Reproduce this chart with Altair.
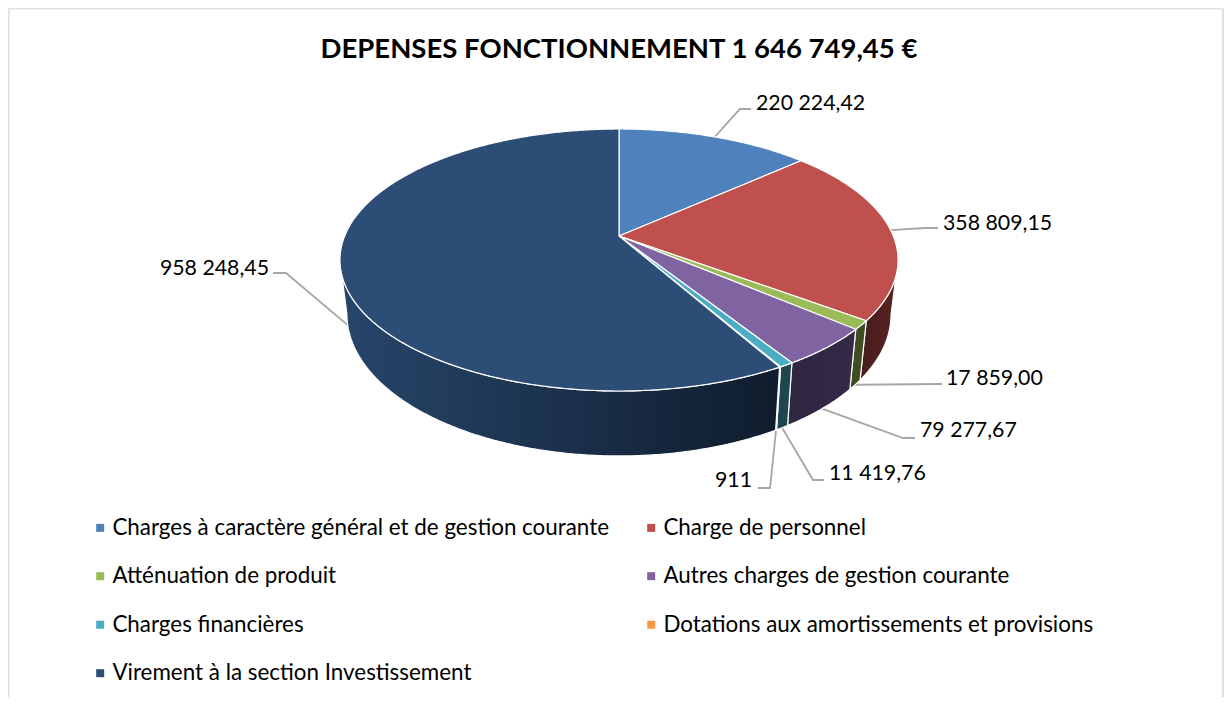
import numpy as np
import pandas as pd
import altair as alt

TITLE = "DEPENSES FONCTIONNEMENT 1 646 749,45 €"
categories = ["Charges à caractère général et de gestion courante", "Charge de personnel",
              "Atténuation de produit", "Autres charges de gestion courante",
              "Charges financières", "Dotations aux amortissements et provisions",
              "Virement à la section Investissement"]
values = [220224.42, 358809.15, 17859.00, 79277.67, 11419.76, 911, 958248.45]
value_labels = ["220 224,42", "358 809,15", "17 859,00", "79 277,67", "11 419,76", "911", "958 248,45"]
top_colors = ["#4f81bd", "#c0504d", "#9bbb59", "#8064a2", "#4bacc6", "#f79646", "#2c4d75"]
wall_left = ["#3b618e", "#471d1d", "#3f4e22", "#2f2640", "#1d4650", "#7a4a22", "#27466b"]
wall_right = ["#3b618e", "#5a2422", "#3f4e22", "#362a46", "#1d4650", "#7a4a22", "#0f1c2d"]

# layout of the data labels (image pixels)
label_x = [756, 943, 946, 920, 829, 752, 269]
label_y = [104, 224, 379, 431, 474, 481, 269]
label_align = ["left", "left", "left", "left", "left", "right", "right"]
elbow_x = [740, 925, 942, 903, 813, 770, 286]
elbow_y = [109, 228, 384, 438, 480, 488, 273]
tail_x = [751, 938, 942, 915, 824, 758, 273]
tail_y = [109, 228, 384, 438, 480, 488, 273]
leader_on_wall = [False, False, True, True, True, True, True]

# projection of the tilted disc
CX, CY, A, B, K = 619.0, 236.0, 274.3, 126.6, 0.1832
YMID = 260.0


def top(theta):
    u, v = np.sin(theta), -np.cos(theta)
    d = 1 - K * v
    return CX + A * u / d, CY + B * v / d


def bottom(theta):
    x, y = top(theta)
    return CX + (x - CX) * 0.975, y + 54.5 + (y - YMID) * 0.08


frac = np.array(values) / sum(values)
edges = np.concatenate([[0], np.cumsum(frac)]) * 2 * np.pi
T0, T1 = np.arcsin(K) + np.pi / 2, 3 * np.pi / 2 - np.arcsin(K)

layers = []
X = alt.X("x:Q", scale=alt.Scale(domain=[8, 1224], nice=False, zero=False), axis=None)
Y = alt.Y("y:Q", scale=alt.Scale(domain=[8, 697], nice=False, zero=False, reverse=True), axis=None)

# chart frame (open at the bottom)
for fx, fy in [([8.5, 8.5], [697, 8.5]), ([8.5, 1223], [8.5, 8.5]), ([1223, 1223], [8.5, 697])]:
    df = pd.DataFrame({"x": fx, "y": fy, "o": [0, 1]})
    layers.append(alt.Chart(df).mark_line(color="#e0e0e0", strokeWidth=2).encode(x=X, y=Y, order="o:Q"))

# leader lines
for i in range(7):
    mid = (edges[i] + edges[i + 1]) / 2
    sx, sy = bottom(mid) if leader_on_wall[i] else top(mid)
    df = pd.DataFrame({"x": [sx, elbow_x[i], tail_x[i]], "y": [sy, elbow_y[i], tail_y[i]], "o": [0, 1, 2]})
    layers.append(alt.Chart(df).mark_line(color="#a6a6a6", strokeWidth=1.8).encode(x=X, y=Y, order="o:Q"))

# side walls
for i in range(7):
    a, b = max(edges[i], T0), min(edges[i + 1], T1)
    if b <= a:
        continue
    th = np.linspace(a, b, max(2, int((b - a) * 120)))
    xt, yt = top(th)
    xb, yb = bottom(th[::-1])
    xs = np.concatenate([xt, xb, xt[:1]])
    ys = np.concatenate([yt, yb, yt[:1]])
    df = pd.DataFrame({"x": xs, "y": ys, "o": np.arange(len(xs))})
    grad = alt.LinearGradient(gradient="linear", x1=0, x2=1, y1=0, y2=0,
                              stops=[alt.GradientStop(color=wall_left[i], offset=0),
                                     alt.GradientStop(color=wall_right[i], offset=1)])
    layers.append(alt.Chart(df).mark_line(fill=grad, stroke="#ffffff", strokeWidth=1.2).encode(x=X, y=Y, order="o:Q"))

# top faces
for i in range(7):
    th = np.linspace(edges[i], edges[i + 1], max(2, int((edges[i + 1] - edges[i]) * 120)))
    xt, yt = top(th)
    xs = np.concatenate([[CX], xt, [CX]])
    ys = np.concatenate([[CY], yt, [CY]])
    df = pd.DataFrame({"x": xs, "y": ys, "o": np.arange(len(xs))})
    layers.append(alt.Chart(df).mark_line(fill=top_colors[i], stroke="#ffffff", strokeWidth=1.2).encode(x=X, y=Y, order="o:Q"))

# data labels
for i in range(7):
    df = pd.DataFrame({"x": [label_x[i]], "y": [label_y[i]], "t": [value_labels[i]]})
    layers.append(alt.Chart(df).mark_text(align=label_align[i], baseline="middle", font="Lato", fontSize=21.3,
                                          color="#000000").encode(x=X, y=Y, text="t:N"))

# title
layers.append(alt.Chart(pd.DataFrame({"x": [619], "y": [50], "t": [TITLE]})).mark_text(
    align="center", baseline="middle", font="Lato", fontSize=27.5, fontWeight="bold", color="#000000"
).encode(x=X, y=Y, text="t:N"))

# legend carrier
leg = pd.DataFrame({"x": [CX] * 7, "y": [CY] * 7, "c": categories})
layers.append(alt.Chart(leg).mark_square(size=0).encode(
    x=X, y=Y,
    color=alt.Color("c:N", scale=alt.Scale(domain=categories, range=top_colors),
                    legend=alt.Legend(title=None, orient="none", direction="horizontal", legendX=81, legendY=508.5,
                                      columns=2, padding=0,
                                      symbolType="square", symbolSize=64, symbolStrokeWidth=0, symbolOpacity=1,
                                      labelFont="Lato", labelFontSize=22.4, labelColor="#000000",
                                      labelLimit=700, labelOffset=1, rowPadding=25.5, columnPadding=30))))

chart = alt.layer(*layers).properties(
    width=1216, height=689, padding=0, autosize=alt.AutoSizeParams(type="none"),
    background="#ffffff",
).configure_view(stroke=None)

chart.save("out.html", embed_options={"renderer": "svg", "actions": False})
